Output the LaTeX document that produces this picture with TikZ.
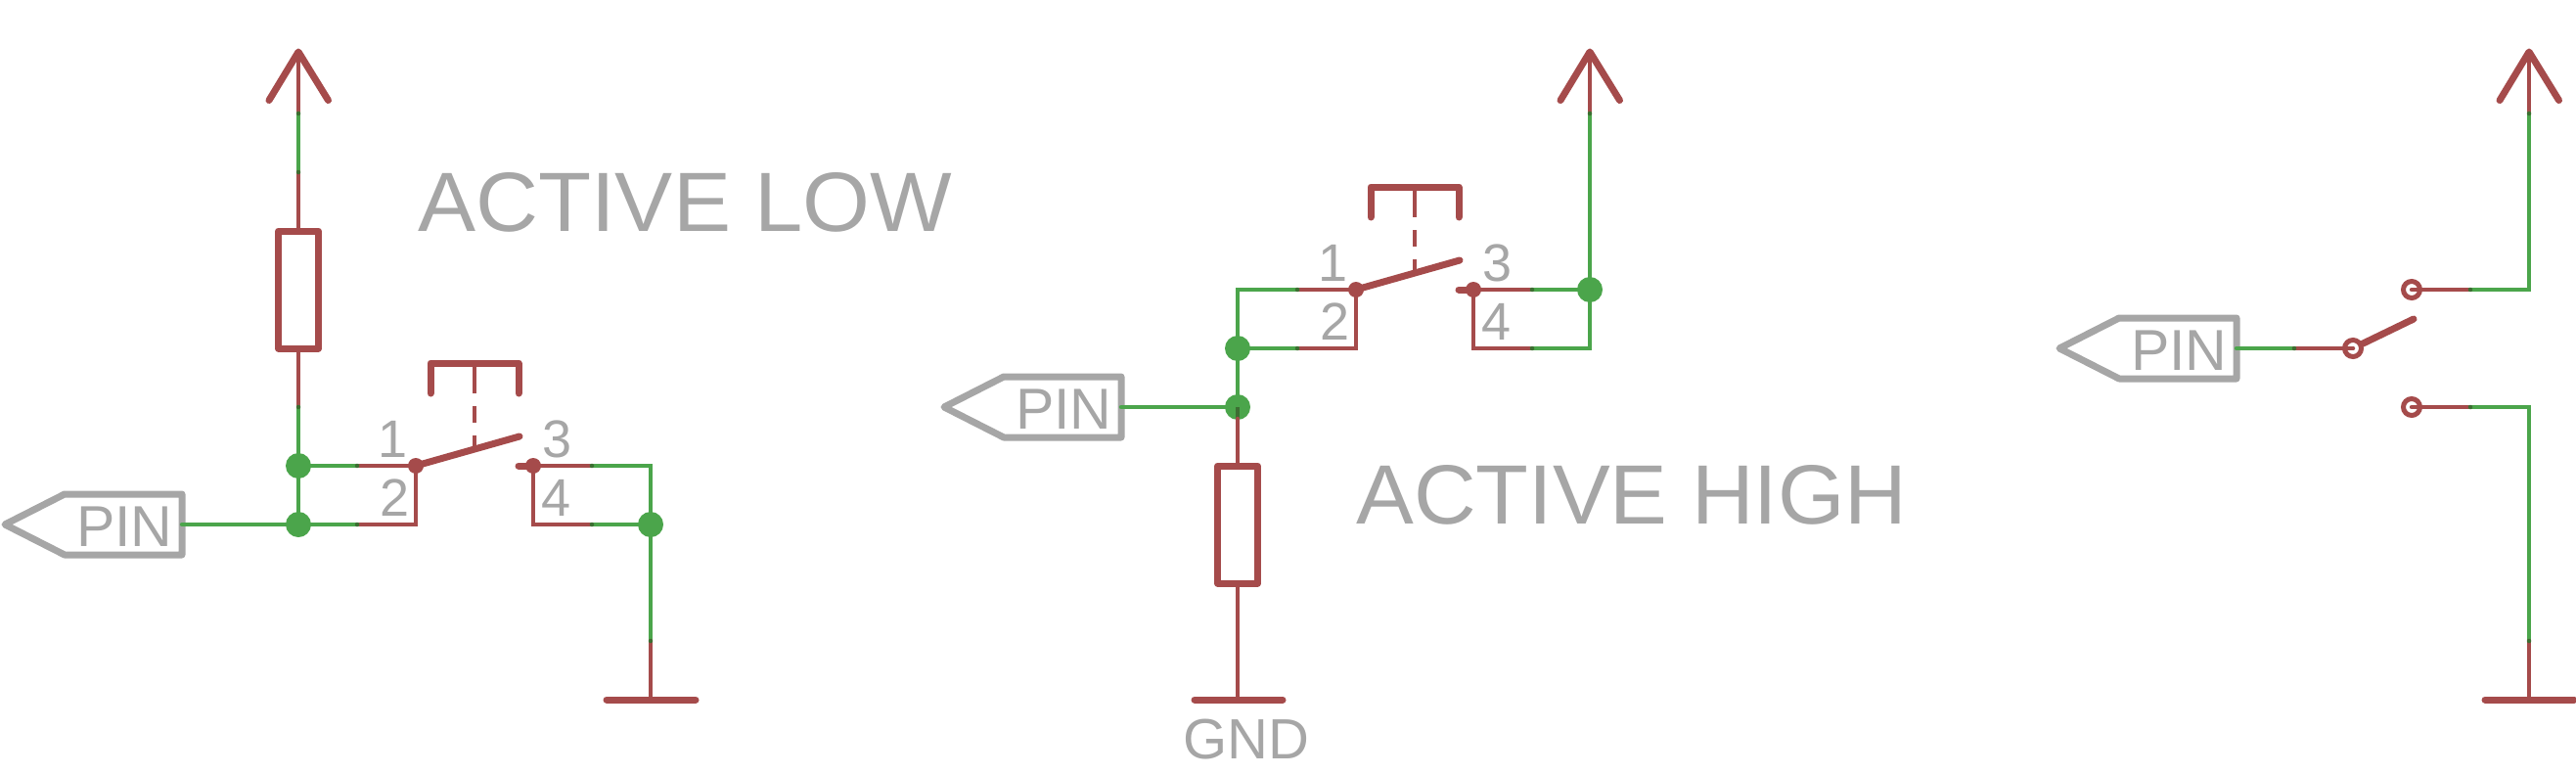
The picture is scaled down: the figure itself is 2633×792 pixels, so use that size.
\documentclass[tikz,border=0pt]{standalone}
\usepackage{fontspec}
\setmainfont{Liberation Sans}
\definecolor{netred}{HTML}{A54B4B}
\definecolor{netgreen}{HTML}{4BA54B}
\definecolor{labgray}{HTML}{A6A6A6}
\definecolor{darkjoin}{HTML}{3C6E32}
\tikzset{
  redwire/.style={draw=netred,line width=4.5pt,line cap=round,line join=miter},
  greenwire/.style={draw=netgreen,line width=4.5pt,line cap=round,line join=miter},
  symline/.style={draw=netred,line width=7pt,line cap=round,line join=round},
  pinline/.style={draw=labgray,line width=7pt,line cap=round,line join=round},
  junction/.style={circle,fill=netgreen,inner sep=0pt,minimum size=26pt},
  contactdot/.style={circle,fill=netred,inner sep=0pt,minimum size=16pt},
  contactring/.style={circle,draw=netred,line width=5pt,inner sep=0pt,minimum size=17pt},
  joindot/.style={circle,fill=darkjoin,inner sep=0pt,minimum size=4.5pt},
  biglabel/.style={text=labgray,anchor=base west,inner sep=0pt,font=\fontsize{86}{86}\selectfont},
  midlabel/.style={text=labgray,anchor=base west,inner sep=0pt,font=\fontsize{59}{59}\selectfont},
  gndlabel/.style={text=labgray,anchor=base,inner sep=0pt,font=\fontsize{58}{58}\selectfont},
  digit/.style={text=labgray,anchor=base west,inner sep=0pt,font=\fontsize{54}{54}\selectfont},
  pics/pushsw/.style={code={
    \coordinate (-one) at (0,0);
    \coordinate (-oneL) at (-60,0);
    \coordinate (-twoC) at (0,60);
    \coordinate (-twoL) at (-60,60);
    \coordinate (-three) at (120,0);
    \coordinate (-threeS) at (105,0);
    \coordinate (-threeR) at (180,0);
    \coordinate (-fourC) at (120,60);
    \coordinate (-fourR) at (180,60);
    \draw[redwire] (-oneL) -- (-one) -- (-twoC) -- (-twoL);
    \draw[symline] (-threeS) -- (-three);
    \draw[redwire] (-three) -- (-threeR);
    \draw[redwire] (-three) -- (-fourC) -- (-fourR);
    \node[contactdot] at (-one) {};
    \node[contactdot] at (-three) {};
    \draw[symline] (-one) -- (106,-30);
    \draw[symline] (15,-74) -- (15,-105) -- (105,-105) -- (105,-74);
    \draw[draw=netred,line width=4.5pt] (60,-105) -- (60,-74) (60,-61) -- (60,-44) (60,-31) -- (60,-17);
    \node[digit] at (-39,-9) {1};
    \node[digit] at (-37,51) {2};
    \node[digit] at (129,-9) {3};
    \node[digit] at (128,51) {4};
  }},
  pics/vcc/.style={code={
    \coordinate (-tip) at (0,0);
    \coordinate (-stem) at (0,63);
    \draw[redwire] (-tip) -- (-stem);
    \draw[symline] (-30,49.5) -- (-tip) -- (30.5,49.5);
  }},
  pics/pinflag/.style={code={
    \coordinate (-end) at (181,0);
    \draw[pinline] (0,0) -- (61,-31) -- (181,-31) -- (181,31) -- (61,31) -- cycle;
    \node[midlabel] at (73,22) {PIN};
  }},
  pics/resbody/.style={code={
    \draw[symline,fill=white] (-20.5,0) rectangle (20.5,120);
  }},
}
\begin{document}
\begin{tikzpicture}[x=1pt,y=-1pt]
\useasboundingbox (0,0) rectangle (2633,792);

% ---------- Active low ----------
\pic (SA) at (425,476) {pushsw};
\pic (VA) at (305,53) {vcc};
\pic (PA) at (5,536) {pinflag};
\coordinate (RAt) at (305,236);
\coordinate (RAb) at (305,356);
\coordinate (GAt) at (665,655);
\coordinate (GAm) at (665,715);
\coordinate (GAl) at (620,715);
\coordinate (GAr) at (711,715);
\coordinate (VAg) at (305,176);
\coordinate (RAg) at (305,416);
\node[junction] (JA1) at (305,476) {};
\node[junction] (JA2) at (305,536) {};
\node[junction] (JA3) at (665,536) {};
\coordinate (TAr) at (665,476);
\draw[greenwire] (VA-stem) -- (VAg);
\draw[redwire] (VAg) -- (RAt);
\draw[redwire] (RAb) -- (RAg);
\draw[greenwire] (RAg) -- (JA1.center) -- (JA2.center);
\draw[greenwire] (JA1.center) -- (SA-oneL);
\draw[greenwire] (JA2.center) -- (SA-twoL);
\draw[greenwire] (PA-end) -- (JA2.center);
\draw[greenwire] (SA-threeR) -- (TAr) -- (JA3.center);
\draw[greenwire] (SA-fourR) -- (JA3.center);
\draw[greenwire] (JA3.center) -- (GAt);
\draw[redwire] (GAt) -- (GAm);
\draw[symline] (GAl) -- (GAr);
\pic at (305,236) {resbody};
\node[biglabel] (TA) at (427,236) {\scalebox{1.03}[1]{ACTIVE LOW}};

% ---------- Active high ----------
\pic (SB) at (1386,296) {pushsw};
\pic (VB) at (1625,53) {vcc};
\pic (PB) at (965,416) {pinflag};
\coordinate (RBt) at (1265,476);
\coordinate (RBb) at (1265,596);
\coordinate (GBm) at (1265,715);
\coordinate (GBl) at (1221,715);
\coordinate (GBr) at (1311,715);
\coordinate (TBl) at (1265,296);
\coordinate (TBr) at (1625,356);
\node[junction] (JB1) at (1265,356) {};
\node[junction] (JB2) at (1265,416) {};
\node[junction] (JB3) at (1625,296) {};
\draw[greenwire] (VB-stem) -- (JB3.center) -- (TBr) -- (SB-fourR);
\draw[greenwire] (SB-threeR) -- (JB3.center);
\draw[greenwire] (SB-oneL) -- (TBl) -- (JB1.center) -- (JB2.center);
\draw[greenwire] (SB-twoL) -- (JB1.center);
\draw[greenwire] (PB-end) -- (JB2.center);
\draw[draw=darkjoin,line width=4.5pt] (JB2.center) -- (1265,428);
\draw[redwire] (1265,428) -- (RBt);
\draw[redwire] (RBb) -- (GBm);
\draw[symline] (GBl) -- (GBr);
\pic at (1265,476) {resbody};
\node[biglabel] (TB) at (1386,535) {\scalebox{1.025}[1]{ACTIVE HIGH}};
\node[gndlabel] (TG) at (1274,775) {GND};

% ---------- Plain switch ----------
\pic (VC) at (2585,53) {vcc};
\pic (PC) at (2105,356) {pinflag};
\coordinate (CAg) at (2345,356);
\coordinate (CBg) at (2525,296);
\coordinate (CBt) at (2585,296);
\coordinate (CCg) at (2525,416);
\coordinate (CCt) at (2585,416);
\coordinate (GCt) at (2585,655);
\coordinate (GCm) at (2585,715);
\coordinate (GCl) at (2540,715);
\coordinate (GCr) at (2631,715);
\coordinate (LCe) at (2467,326);
\node[contactring] (RA) at (2405,356) {};
\node[contactring] (RB) at (2465,296) {};
\node[contactring] (RC) at (2465,416) {};
\draw[greenwire] (PC-end) -- (CAg);
\draw[redwire] (CAg) -- (RA.center);
\draw[symline] (RA) -- (LCe);
\draw[redwire] (RB.center) -- (CBg);
\draw[greenwire] (CBg) -- (CBt) -- (VC-stem);
\draw[redwire] (RC.center) -- (CCg);
\draw[greenwire] (CCg) -- (CCt) -- (GCt);
\draw[redwire] (GCt) -- (GCm);
\draw[symline] (GCl) -- (GCr);

% ---------- colour overlap dots where net meets symbol pin ----------
\foreach \p in {VA-stem,VAg,RAg,SA-oneL,SA-twoL,SA-threeR,SA-fourR,GAt,VB-stem,SB-oneL,SB-twoL,SB-threeR,SB-fourR,VC-stem,CAg,CBg,CCg,GCt}
  \node[joindot] at (\p) {};
\end{tikzpicture}
\end{document}
